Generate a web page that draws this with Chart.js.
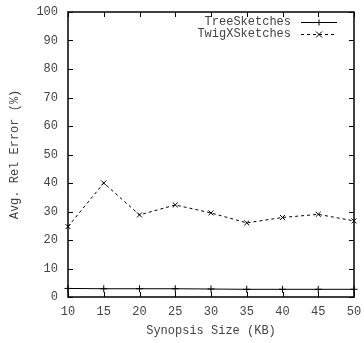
<!DOCTYPE html>
<html>
<head>
<meta charset="utf-8">
<script src="https://cdn.jsdelivr.net/npm/chart.js@4"></script>
<style>
  html, body { margin: 0; padding: 0; background: #fff; }
  #wrap { width: 364px; height: 343px; }
</style>
</head>
<body>
<div id="wrap"><canvas id="chart" width="364" height="343"></canvas></div>
<script>
'use strict';

var sizes = [10, 15, 20, 25, 30, 35, 40, 45, 50];
var treeSketches = [3.0, 2.9, 2.9, 2.9, 2.8, 2.7, 2.7, 2.7, 2.7];
var twigXSketches = [24.7, 40.0, 28.8, 32.3, 29.5, 26.0, 27.9, 29.0, 26.7];
var seriesNames = ['TreeSketches', 'TwigXSketches'];

var FONT = "'Liberation Mono', 'DejaVu Sans Mono', monospace";
var INK = '#000';
var TXT = '#444';

function points(ys) {
  return sizes.map(function(x, i) { return { x: x, y: ys[i] }; });
}

// gnuplot-style inward ticks on all four sides
var innerTicks = {
  id: 'innerTicks',
  afterDraw: function(chart) {
    var ctx = chart.ctx;
    var a = chart.chartArea;
    var xs = chart.scales.x, ys = chart.scales.y;
    var len = 5;
    ctx.save();
    ctx.strokeStyle = INK;
    ctx.lineWidth = 1;
    ctx.beginPath();
    xs.ticks.forEach(function(t) {
      var px = Math.round(xs.getPixelForValue(t.value)) + 0.5;
      ctx.moveTo(px, a.bottom); ctx.lineTo(px, a.bottom - len);
      ctx.moveTo(px, a.top); ctx.lineTo(px, a.top + len);
    });
    ys.ticks.forEach(function(t) {
      var py = Math.round(ys.getPixelForValue(t.value)) + 0.5;
      ctx.moveTo(a.left, py); ctx.lineTo(a.left + len, py);
      ctx.moveTo(a.right, py); ctx.lineTo(a.right - len, py);
    });
    ctx.stroke();
    ctx.lineWidth = 1.5;
    ctx.strokeRect(a.left, a.top, a.right - a.left, a.bottom - a.top);
    ctx.restore();
  }
};

// key in the top right corner, text right aligned before the sample
var keyBox = {
  id: 'keyBox',
  afterDraw: function(chart) {
    var ctx = chart.ctx;
    var a = chart.chartArea;
    var textRight = a.right - 63;
    var x0 = a.right - 53, x1 = a.right - 17, mid = (x0 + x1) / 2;
    var rows = [a.top + 10, a.top + 22];
    ctx.save();
    ctx.font = '12px ' + FONT;
    ctx.fillStyle = TXT;
    ctx.textAlign = 'right';
    ctx.textBaseline = 'middle';
    chart.data.datasets.forEach(function(ds, i) {
      var y = rows[i] + 0.5;
      ctx.fillText(ds.label, textRight, rows[i]);
      ctx.strokeStyle = ds.borderColor;
      ctx.lineWidth = 1;
      ctx.setLineDash(ds.borderDash || []);
      ctx.beginPath();
      ctx.moveTo(x0, y); ctx.lineTo(x1, y);
      ctx.stroke();
      ctx.setLineDash([]);
      ctx.beginPath();
      var r = 3;
      if (ds.pointStyle === 'cross') {
        ctx.moveTo(mid - r, y); ctx.lineTo(mid + r, y);
        ctx.moveTo(mid, y - r); ctx.lineTo(mid, y + r);
      } else {
        ctx.moveTo(mid - r, y - r); ctx.lineTo(mid + r, y + r);
        ctx.moveTo(mid - r, y + r); ctx.lineTo(mid + r, y - r);
      }
      ctx.stroke();
    });
    ctx.restore();
  }
};

new Chart(document.getElementById('chart'), {
  type: 'line',
  data: {
    datasets: [
      {
        label: seriesNames[0],
        data: points(treeSketches),
        borderColor: INK,
        borderWidth: 1,
        pointStyle: 'cross',
        pointRadius: 3.5,
        pointBorderColor: INK,
        pointBorderWidth: 1,
        fill: false,
        tension: 0
      },
      {
        label: seriesNames[1],
        data: points(twigXSketches),
        borderColor: INK,
        borderWidth: 1,
        borderDash: [3, 3],
        pointStyle: 'crossRot',
        pointRadius: 3.5,
        pointBorderColor: INK,
        pointBorderWidth: 1,
        fill: false,
        tension: 0
      }
    ]
  },
  options: {
    responsive: false,
    animation: false,
    clip: false,
    layout: { padding: { top: 12, right: 10, left: 0, bottom: 0 } },
    plugins: { legend: { display: false }, tooltip: { enabled: false } },
    scales: {
      x: {
        type: 'linear',
        min: 10, max: 50,
        border: { display: false },
        grid: { display: false, drawTicks: false },
        ticks: { stepSize: 5, padding: 8, color: TXT, font: { family: FONT, size: 12 } },
        title: {
          display: true, text: 'Synopsis Size (KB)', color: TXT,
          font: { family: FONT, size: 12 }, padding: { top: 0, bottom: 5 }
        },
        afterFit: function(s) { s.height = 46; s.paddingLeft = 0; s.paddingRight = 0; }
      },
      y: {
        min: 0, max: 100,
        border: { display: false },
        grid: { display: false, drawTicks: false },
        ticks: { stepSize: 10, padding: 10, color: TXT, font: { family: FONT, size: 12 } },
        title: {
          display: true, text: 'Avg. Rel Error (%)', color: TXT,
          font: { family: FONT, size: 12 }, padding: { top: 8, bottom: 0 }
        },
        afterFit: function(s) { s.width = 68; s.paddingTop = 0; s.paddingBottom = 0; }
      }
    }
  },
  plugins: [innerTicks, keyBox]
});
</script>
</body>
</html>
